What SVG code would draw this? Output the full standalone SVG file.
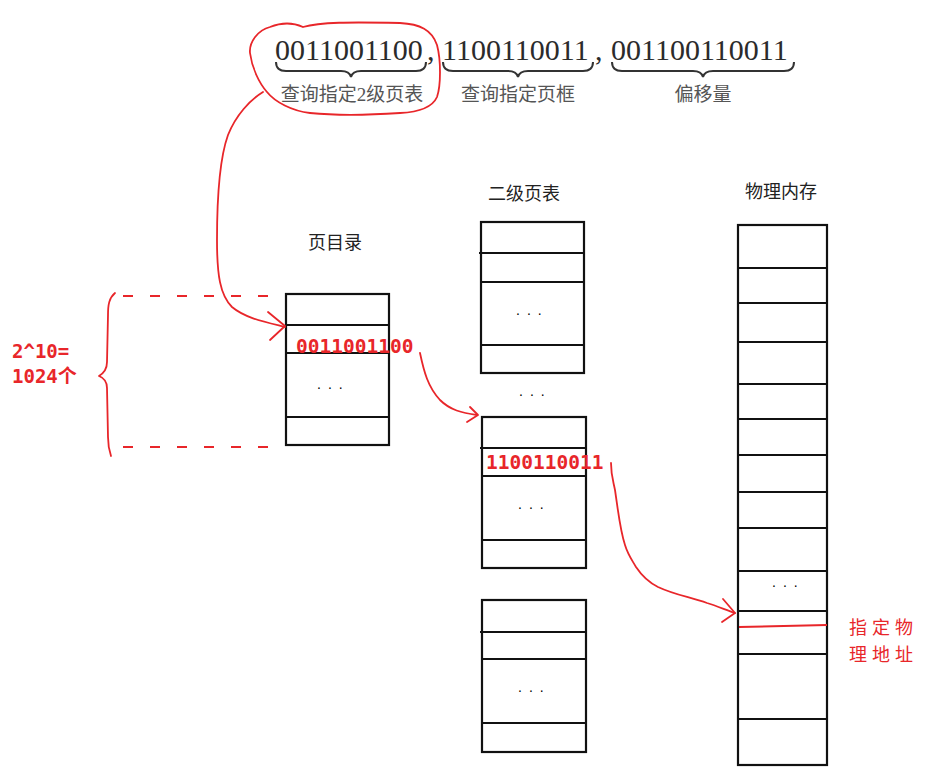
<svg xmlns="http://www.w3.org/2000/svg" width="940" height="778" viewBox="0 0 940 778">
<defs>
<style>
.box{fill:#fff;stroke:#111;stroke-width:2.2}
.div{stroke:#111;stroke-width:2.2}
.num{font-family:"Liberation Serif","Times New Roman",serif;font-size:30px;fill:#2b2b2b}
.lab{font-family:"Liberation Serif","Noto Sans CJK SC",serif;font-size:19px;fill:#555;text-anchor:middle}
.brace{fill:none;stroke:#333;stroke-width:2}
.title{font-family:"Noto Sans CJK SC","Noto Sans",sans-serif;font-size:18px;fill:#222}
.dots{font-family:"Liberation Sans",sans-serif;font-size:14px;fill:#000;letter-spacing:7px}
.rtxt{font-family:"DejaVu Sans Mono","Noto Sans CJK SC",monospace;font-size:19.5px;font-weight:bold;fill:#e8262a}
.rlab{font-family:"Noto Sans CJK SC",sans-serif;font-size:18px;fill:#e8262a;letter-spacing:5px}
.red{fill:none;stroke:#e8262a;stroke-width:1.8;stroke-linecap:round;stroke-linejoin:round}
.dash{fill:none;stroke:#e8262a;stroke-width:1.8;stroke-dasharray:10 17}
</style>
</defs>

<g id="address">
<text class="num" x="275" y="60">0011001100</text>
<text class="num" x="427" y="60">,</text>
<text class="num" x="442" y="60">1100110011</text>
<text class="num" x="595" y="60">,</text>
<text class="num" x="611" y="60">001100110011</text>
<path class="brace" d="M276,62 C276,68 279,71 286,71 L341,71 C347,71 350,73 351,77 C352,73 355,71 361,71 L416,71 C423,71 426,68 426,62"/>
<path class="brace" d="M443,62 C443,68 446,71 453,71 L508,71 C514,71 517,73 518,77 C519,73 522,71 528,71 L583,71 C590,71 593,68 593,62"/>
<path class="brace" d="M612,62 C612,68 615,71 622,71 L693,71 C699,71 702,73 703,77 C704,73 707,71 713,71 L784,71 C791,71 794,68 794,62"/>
<text class="lab" x="352" y="101">查询指定2级页表</text>
<text class="lab" x="518" y="101">查询指定页框</text>
<text class="lab" x="703" y="101">偏移量</text>
</g>

<g id="page-directory">
<text class="title" x="308" y="249">页目录</text>
<rect class="box" x="286" y="294" width="103" height="151"/>
<line class="div" x1="286" y1="325" x2="389" y2="325"/>
<line class="div" x1="286" y1="353" x2="389" y2="353"/>
<line class="div" x1="286" y1="417" x2="389" y2="417"/>
<text class="dots" x="317" y="389">...</text>
<text class="rtxt" x="296" y="353">0011001100</text>
</g>

<g id="second-level-tables">
<text class="title" x="488" y="200">二级页表</text>
<g id="table-1">
<rect class="box" x="481" y="222" width="103" height="151"/>
<line class="div" x1="479" y1="253" x2="584" y2="253"/>
<line class="div" x1="481" y1="282" x2="584" y2="282"/>
<line class="div" x1="481" y1="345" x2="584" y2="345"/>
<text class="dots" x="516" y="315">...</text>
</g>
<text class="dots" x="519" y="396">...</text>
<g id="table-2">
<rect class="box" x="482" y="417" width="104" height="151"/>
<line class="div" x1="480" y1="448" x2="586" y2="448"/>
<line class="div" x1="482" y1="476" x2="586" y2="476"/>
<line class="div" x1="482" y1="540" x2="586" y2="540"/>
<text class="dots" x="518" y="509">...</text>
<text class="rtxt" x="486" y="469">1100110011</text>
</g>
<g id="table-3">
<rect class="box" x="482" y="600" width="104" height="152"/>
<line class="div" x1="480" y1="632" x2="586" y2="632"/>
<line class="div" x1="482" y1="659" x2="586" y2="659"/>
<line class="div" x1="482" y1="723" x2="586" y2="723"/>
<text class="dots" x="518" y="692">...</text>
</g>
</g>

<g id="physical-memory">
<text class="title" x="745" y="198">物理内存</text>
<rect class="box" x="738" y="225" width="89" height="540"/>
<line class="div" x1="738" y1="268" x2="827" y2="268"/>
<line class="div" x1="738" y1="303" x2="827" y2="303"/>
<line class="div" x1="738" y1="342" x2="827" y2="342"/>
<line class="div" x1="738" y1="384" x2="827" y2="384"/>
<line class="div" x1="738" y1="419" x2="827" y2="419"/>
<line class="div" x1="738" y1="455" x2="827" y2="455"/>
<line class="div" x1="738" y1="492" x2="827" y2="492"/>
<line class="div" x1="738" y1="528" x2="827" y2="528"/>
<line class="div" x1="738" y1="571" x2="827" y2="571"/>
<line class="div" x1="738" y1="611" x2="827" y2="611"/>
<line class="div" x1="738" y1="654" x2="827" y2="654"/>
<line class="div" x1="738" y1="719" x2="827" y2="719"/>
<text class="dots" x="772" y="587">...</text>
<line x1="739" y1="627" x2="827" y2="625" stroke="#e8262a" stroke-width="2"/>
<text class="rlab" x="849" y="634">指定物</text>
<text class="rlab" x="849" y="661">理地址</text>
</g>

<g id="count-annotation">
<path class="dash" d="M123,296 L283,296"/>
<path class="dash" d="M123,447 L283,447"/>
<path class="red" d="M115,293 C109,298 108,305 108,315 L107,362 C107,369 104,373 99,376 C104,378 107,381 107,388 L108,437 C108,445 109,450 111,456"/>
<text class="rtxt" x="12" y="358" style="font-size:19px">2^10=</text>
<text class="rtxt" x="12" y="383" style="font-size:19px">1024个</text>
</g>

<g id="connectors">
<path class="red" d="M303,27 C320,22 350,22 400,23 C420,24 432,30 437,45 C441,60 441,85 437,97 C433,106 420,112 400,113 C370,115 340,116 310,113 C292,111 275,102 267,92 C259,83 252,68 250,53 C249,42 258,30 270,27 C280,23 292,22 303,27"/>
<path class="red" d="M263,92 C250,100 236,115 228,135 C219,160 217,200 217,240 C217,275 220,295 232,307 C245,318 265,322 285,327"/>
<path class="red" d="M268,312 L285,326 L270,340"/>
<path class="red" d="M420,353 C424,372 428,387 440,400 C450,410 462,413 477,415"/>
<path class="red" d="M470,407 L478,415 L467,422"/>
<path class="red" d="M611,463 C611,475 613,480 615,490 C618,510 620,530 625,545 C628,555 632,560 636,567 C642,576 648,582 658,587 C675,595 690,597 707,603 C717,606 726,610 735,613"/>
<path class="red" d="M723,599 L735,613 L722,622"/>
</g>
</svg>
